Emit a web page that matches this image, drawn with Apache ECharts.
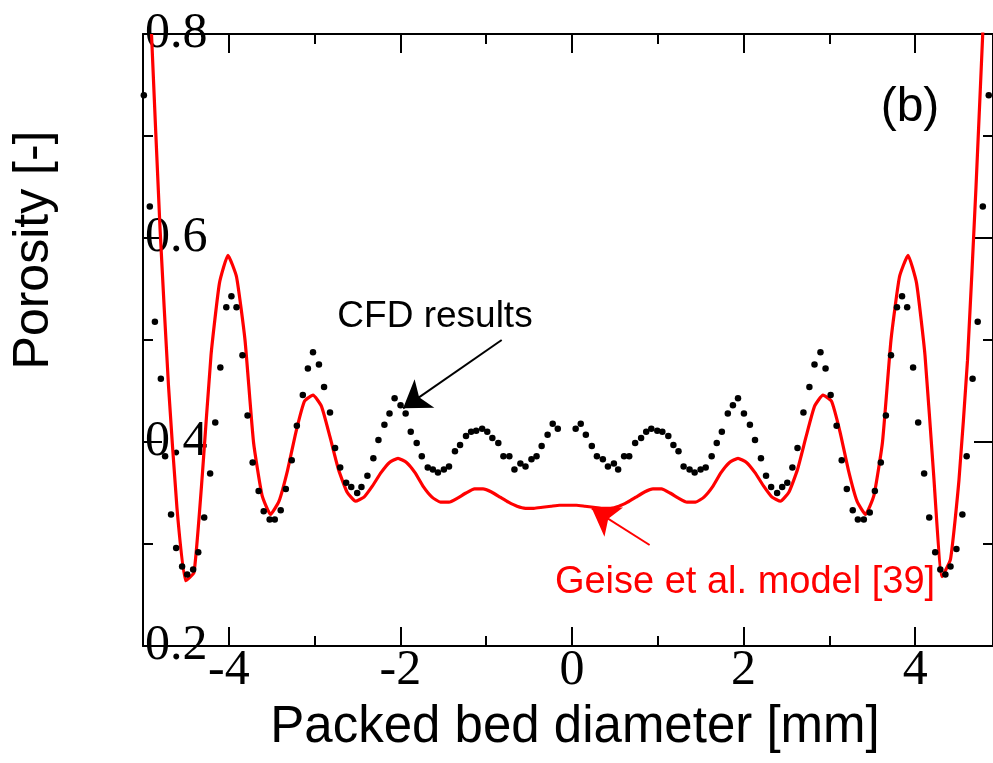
<!DOCTYPE html>
<html><head><meta charset="utf-8">
<script src="https://cdn.jsdelivr.net/npm/echarts@6/dist/echarts.min.js"></script>
<style>html,body{margin:0;padding:0;background:#fff;overflow:hidden}#c{width:993px;height:763px}</style>
</head><body><div id="c"></div>
<script>
// CFD results (black dots)
const cfdX = [-4.99,-4.92,-4.86,-4.79,-4.74,-4.67,-4.61,-4.54,-4.48,-4.41,-4.35,-4.28,-4.21,-4.15,-4.09,-4.02,-3.96,-3.90,-3.83,-3.77,-3.71,-3.64,-3.58,-3.51,-3.45,-3.38,-3.32,-3.25,-3.19,-3.12,-3.06,-3.00,-2.93,-2.87,-2.80,-2.74,-2.68,-2.61,-2.55,-2.48,-2.43,-2.36,-2.29,-2.23,-2.16,-2.10,-2.04,-1.97,-1.91,-1.85,-1.78,-1.72,-1.65,-1.59,-1.53,-1.46,-1.40,-1.33,-1.27,-1.20,-1.14,-1.08,-1.01,-0.95,-0.89,-0.82,-0.76,-0.69,-0.63,-0.56,-0.50,-0.43,-0.37,-0.31,-0.24,-0.18,-0.12,
0.09,0.15,0.21,0.28,0.34,0.41,0.47,0.54,0.59,0.66,0.72,0.79,0.86,0.92,0.98,1.05,1.11,1.18,1.24,1.30,1.36,1.43,1.49,1.56,1.62,1.69,1.75,1.81,1.88,1.94,2.00,2.07,2.14,2.20,2.27,2.33,2.39,2.46,2.52,2.58,2.64,2.70,2.77,2.84,2.90,2.97,3.03,3.09,3.16,3.22,3.28,3.35,3.41,3.48,3.55,3.61,3.68,3.74,3.80,3.87,3.93,3.99,4.06,4.12,4.19,4.25,4.32,4.38,4.44,4.50,4.57,4.64,4.69,4.76,4.82,4.88,4.95];
const cfdY = [0.740,0.631,0.518,0.462,0.386,0.329,0.296,0.278,0.270,0.275,0.292,0.326,0.369,0.419,0.473,0.532,0.543,0.532,0.485,0.426,0.380,0.352,0.332,0.324,0.324,0.333,0.354,0.382,0.416,0.446,0.472,0.488,0.476,0.454,0.429,0.394,0.375,0.360,0.356,0.350,0.356,0.367,0.384,0.402,0.417,0.428,0.443,0.436,0.428,0.410,0.399,0.386,0.375,0.373,0.370,0.373,0.376,0.391,0.397,0.406,0.410,0.411,0.413,0.410,0.404,0.399,0.386,0.386,0.373,0.379,0.376,0.383,0.386,0.396,0.407,0.418,0.413,
0.413,0.418,0.407,0.396,0.386,0.383,0.376,0.379,0.373,0.386,0.386,0.399,0.404,0.410,0.413,0.411,0.410,0.406,0.397,0.391,0.376,0.373,0.370,0.373,0.375,0.386,0.399,0.410,0.428,0.436,0.443,0.428,0.417,0.402,0.384,0.367,0.356,0.350,0.356,0.360,0.375,0.394,0.429,0.454,0.476,0.488,0.472,0.446,0.416,0.382,0.354,0.333,0.324,0.324,0.331,0.352,0.380,0.426,0.485,0.532,0.543,0.532,0.473,0.419,0.369,0.326,0.292,0.275,0.270,0.278,0.295,0.329,0.386,0.462,0.518,0.631,0.740];

// Geise et al. model [39] (red line)
const modelX = [-4.9,-4.8,-4.7,-4.6,-4.5,-4.4,-4.3,-4.2,-4.1,-4.0,-3.9,-3.8,-3.7,-3.6,-3.5,-3.4,-3.3,-3.2,-3.1,-3.0,-2.9,-2.8,-2.7,-2.6,-2.5,-2.4,-2.3,-2.2,-2.1,-2.0,-1.9,-1.8,-1.7,-1.6,-1.5,-1.4,-1.3,-1.2,-1.1,-1.0,-0.9,-0.8,-0.7,-0.6,-0.5,-0.4,-0.3,-0.2,-0.1,0.0,
0.1,0.2,0.3,0.4,0.5,0.6,0.7,0.8,0.9,1.0,1.1,1.2,1.3,1.4,1.5,1.6,1.7,1.8,1.9,2.0,2.1,2.2,2.3,2.4,2.5,2.6,2.7,2.8,2.9,3.0,3.1,3.2,3.3,3.4,3.5,3.6,3.7,3.8,3.9,4.0,4.1,4.2,4.3,4.4,4.5,4.6,4.7,4.8,4.9];
const modelY = [0.80,0.61,0.455,0.335,0.264,0.272,0.37,0.485,0.556,0.583,0.562,0.50,0.40,0.348,0.329,0.342,0.372,0.41,0.44,0.446,0.435,0.405,0.373,0.351,0.342,0.346,0.357,0.370,0.380,0.384,0.380,0.370,0.356,0.346,0.341,0.341,0.345,0.350,0.354,0.354,0.351,0.346,0.341,0.337,0.335,0.335,0.336,0.337,0.338,0.338,
0.338,0.337,0.336,0.335,0.335,0.337,0.341,0.346,0.351,0.354,0.354,0.350,0.345,0.341,0.341,0.346,0.356,0.370,0.380,0.384,0.380,0.370,0.357,0.346,0.342,0.351,0.373,0.405,0.435,0.446,0.44,0.41,0.372,0.342,0.329,0.348,0.40,0.50,0.562,0.583,0.556,0.485,0.37,0.268,0.285,0.363,0.48,0.65,0.84];

const xRange = [-5, 5];
const xMajorRange = [-4, 4];
const yRange = [0.2, 0.8];
const xTickLabels = [-4, -2, 0, 2, 4];
const yTickLabels = [0.2, 0.4, 0.6, 0.8];

const cfdLabel = 'CFD results';
const modelLabel = 'Geise et al. model [39]';
const panelLabel = '(b)';
const xTitle = 'Packed bed diameter [mm]';
const yTitle = 'Porosity [-]';

const cfdArrow = [[-0.78, 0.500], [-1.94, 0.433]];
const modelArrow = [[0.96, 0.299], [0.28, 0.335]];

const cfdData = cfdX.map((x, i) => [x, cfdY[i]]);
const modelData = modelX.map((x, i) => [x, modelY[i]]);

const serif = '"Liberation Serif","Times New Roman",serif';
const sans = '"Liberation Sans",Arial,sans-serif';
const black = '#000';
const lineSt = { color: black, width: 2 };

const chart = echarts.init(document.getElementById('c'), null, { renderer: 'canvas' });

const plotLeft = 143, plotRight = -8, plotTop = 34, plotBottom = 117;
const unitPx = (993 - plotLeft - plotRight) / (xRange[1] - xRange[0]);

chart.setOption({
  animation: false,
  backgroundColor: '#fff',
  grid: [
    { left: plotLeft, right: plotRight, top: plotTop, bottom: plotBottom },
    { left: plotLeft + unitPx * (xMajorRange[0] - xRange[0]), right: plotRight + unitPx * (xRange[1] - xMajorRange[1]), top: plotTop, bottom: plotBottom }
  ],
  xAxis: [
    { gridIndex: 0, type: 'value', position: 'bottom', min: xRange[0], max: xRange[1],
      axisLine: { show: true, onZero: false, lineStyle: lineSt }, axisTick: { show: false }, axisLabel: { show: false }, splitLine: { show: false } },
    { gridIndex: 0, type: 'value', position: 'top', min: xRange[0], max: xRange[1],
      axisLine: { show: true, onZero: false, lineStyle: lineSt }, axisTick: { show: false }, axisLabel: { show: false }, splitLine: { show: false } },
    { gridIndex: 1, type: 'value', position: 'bottom', min: xMajorRange[0], max: xMajorRange[1], interval: 2,
      axisLine: { show: false, onZero: false },
      axisTick: { show: true, inside: true, length: 19, lineStyle: lineSt },
      minorTick: { show: true, splitNumber: 2, length: 10, lineStyle: lineSt },
      axisLabel: { show: true, margin: 0, color: black, fontFamily: serif, fontSize: 50,
        formatter: v => (xTickLabels.indexOf(v) >= 0 ? String(v) : '') },
      splitLine: { show: false } },
    { gridIndex: 1, type: 'value', position: 'top', min: xMajorRange[0], max: xMajorRange[1], interval: 2,
      axisLine: { show: false, onZero: false },
      axisTick: { show: true, inside: true, length: 19, lineStyle: lineSt },
      minorTick: { show: true, splitNumber: 2, length: 10, lineStyle: lineSt },
      axisLabel: { show: false }, splitLine: { show: false } }
  ],
  yAxis: [
    { gridIndex: 0, type: 'value', position: 'left', min: yRange[0], max: yRange[1], interval: 0.2,
      axisLine: { show: true, onZero: false, lineStyle: lineSt },
      axisTick: { show: true, inside: true, length: 19, lineStyle: lineSt },
      minorTick: { show: true, splitNumber: 2, length: 10, lineStyle: lineSt },
      axisLabel: { show: true, inside: true, margin: 2, color: black, fontFamily: serif, fontSize: 50,
        formatter: v => { const m = yTickLabels.find(t => Math.abs(t - v) < 1e-6); return m !== undefined ? m.toFixed(1) : ''; } },
      splitLine: { show: false } },
    { gridIndex: 0, type: 'value', position: 'right', min: yRange[0], max: yRange[1], interval: 0.2,
      axisLine: { show: true, onZero: false, lineStyle: lineSt },
      axisTick: { show: true, inside: true, length: 19, lineStyle: lineSt },
      minorTick: { show: true, splitNumber: 2, length: 10, lineStyle: lineSt },
      axisLabel: { show: false }, splitLine: { show: false } },
    { gridIndex: 1, type: 'value', min: yRange[0], max: yRange[1], show: false }
  ],
  series: [
    { name: modelLabel, type: 'line', xAxisIndex: 0, yAxisIndex: 0, data: modelData,
      showSymbol: false, symbol: 'none', clip: true, z: 3, smooth: 0.15,
      lineStyle: { color: '#ff0000', width: 3.2 },
      markLine: { silent: true, symbol: ['none', 'arrow'], symbolSize: 26,
        label: { show: false }, lineStyle: { color: '#ff0000', width: 2, type: 'solid' },
        data: [[{ coord: modelArrow[0] }, { coord: modelArrow[1] }]] } },
    { name: cfdLabel, type: 'scatter', xAxisIndex: 0, yAxisIndex: 0, data: cfdData,
      symbol: 'circle', symbolSize: 6.5, clip: true, z: 4,
      itemStyle: { color: black, opacity: 1 },
      markLine: { silent: true, symbol: ['none', 'arrow'], symbolSize: 26,
        label: { show: false }, lineStyle: { color: black, width: 2, type: 'solid' },
        data: [[{ coord: cfdArrow[0] }, { coord: cfdArrow[1] }]] } }
  ],
  graphic: [
    { type: 'text', x: 34, y: 250, rotation: Math.PI / 2, z: 10,
      style: { text: yTitle, font: '50px ' + sans, fill: black, align: 'center', verticalAlign: 'middle', textAlign: 'center', textVerticalAlign: 'middle' } },
    { type: 'text', x: 575, y: 728, z: 10,
      style: { text: xTitle, font: '51px ' + sans, fill: black, align: 'center', verticalAlign: 'middle', textAlign: 'center', textVerticalAlign: 'middle' } },
    { type: 'text', x: 910, y: 108, z: 10,
      style: { text: panelLabel, font: '48px ' + sans, fill: black, align: 'center', verticalAlign: 'middle', textAlign: 'center', textVerticalAlign: 'middle' } },
    { type: 'text', x: 435, y: 317, z: 10,
      style: { text: cfdLabel, font: '37px ' + sans, fill: black, align: 'center', verticalAlign: 'middle', textAlign: 'center', textVerticalAlign: 'middle' } },
    { type: 'text', x: 745, y: 583, z: 10,
      style: { text: modelLabel, font: '38px ' + sans, fill: '#ff0000', align: 'center', verticalAlign: 'middle', textAlign: 'center', textVerticalAlign: 'middle' } }
  ]
});
</script>
</body></html>
